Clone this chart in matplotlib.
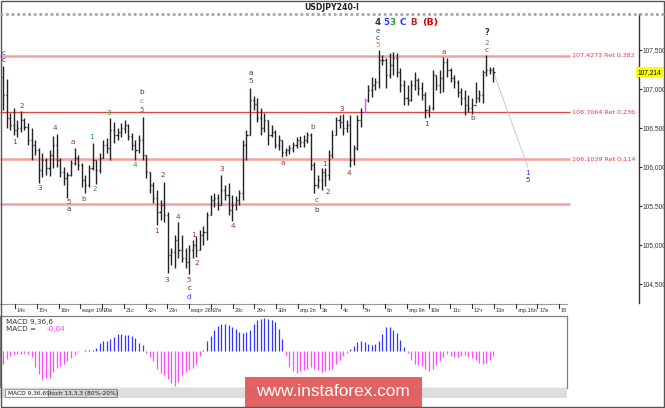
import matplotlib
matplotlib.use('Agg')
import matplotlib.pyplot as plt
from matplotlib.patches import Rectangle
from matplotlib.lines import Line2D
import matplotlib.transforms as mtrans
import numpy as np

plt.rcParams['font.family'] = ['DejaVu Sans']

# USDJPY H4 bars, 13 Mar - 12 Apr
highs = [107.29, 107.13, 106.69, 106.76, 106.60, 106.72, 106.63, 106.56, 106.50, 106.35,
         106.24, 106.18, 106.12, 106.22, 106.40, 106.42, 106.12, 106.00, 105.94, 106.09,
         106.24, 106.15, 106.05, 105.90, 106.03, 106.31, 106.09, 106.18, 106.35, 106.37,
         106.63, 106.58, 106.50, 106.56, 106.60, 106.55, 106.44, 106.35, 106.41, 106.64,
         106.15, 105.94, 105.81, 105.71, 105.58, 105.81, 105.42, 104.96, 105.13, 105.29,
         105.13, 104.96, 105.00, 105.06, 105.12, 105.19, 105.24, 105.42, 105.64, 105.67,
         105.65, 105.90, 105.77, 105.79, 105.64, 105.63, 105.71, 106.35, 106.47, 107.01,
         106.91, 106.88, 106.76, 106.69, 106.60, 106.54, 106.47, 106.41, 106.35, 106.24,
         106.28, 106.32, 106.38, 106.40, 106.41, 106.45, 106.44, 106.06, 105.90, 105.99,
         105.99, 106.22, 106.47, 106.64, 106.67, 106.68, 106.60, 106.67, 106.28, 106.67,
         106.76, 106.88, 107.05, 107.15, 107.14, 107.50, 107.44, 107.40, 107.46, 107.47,
         107.46, 107.27, 107.12, 107.05, 107.12, 107.22, 107.14, 107.09, 106.96, 106.79,
         107.24, 107.18, 107.24, 107.41, 107.40, 107.27, 107.18, 107.12, 107.01, 106.99,
         106.92, 106.88, 107.09, 106.99, 107.24, 107.43, 107.28, 107.28]
lows = [106.73, 106.50, 106.47, 106.41, 106.38, 106.45, 106.47, 106.28, 106.09, 106.15,
        105.79, 105.87, 105.90, 105.88, 105.99, 106.00, 105.87, 105.77, 105.60, 105.88,
        106.03, 105.96, 105.74, 105.67, 105.74, 105.96, 105.78, 105.92, 106.12, 106.18,
        106.09, 106.31, 106.35, 106.38, 106.44, 106.35, 106.22, 106.09, 106.18, 106.09,
        105.86, 105.67, 105.54, 105.26, 105.32, 105.29, 104.64, 104.74, 104.71, 104.83,
        104.78, 104.71, 104.63, 104.83, 104.85, 104.94, 105.00, 105.06, 105.38, 105.49,
        105.45, 105.51, 105.58, 105.38, 105.31, 105.45, 105.51, 105.58, 106.09, 106.41,
        106.73, 106.58, 106.41, 106.45, 106.28, 106.38, 106.24, 106.22, 106.13, 106.14,
        106.17, 106.19, 106.24, 106.26, 106.26, 106.31, 105.96, 105.67, 105.73, 105.71,
        105.76, 105.83, 106.12, 106.41, 106.50, 106.41, 106.45, 106.00, 106.03, 106.22,
        106.51, 106.71, 106.83, 106.90, 106.99, 107.01, 107.31, 107.01, 107.14, 107.18,
        107.15, 106.96, 106.79, 106.79, 106.85, 106.99, 106.92, 106.86, 106.63, 106.64,
        106.73, 106.99, 106.95, 106.96, 107.15, 107.09, 107.01, 106.90, 106.79, 106.67,
        106.71, 106.68, 106.82, 106.83, 106.82, 107.17, 107.19, 107.09]
closes = [106.92, 106.63, 106.54, 106.47, 106.50, 106.60, 106.51, 106.35, 106.28, 106.22,
          105.96, 106.09, 105.99, 106.15, 106.28, 106.09, 105.94, 105.86, 105.90, 106.05,
          106.12, 106.03, 105.83, 105.77, 105.99, 106.09, 105.96, 106.12, 106.28, 106.24,
          106.47, 106.41, 106.45, 106.50, 106.54, 106.40, 106.28, 106.22, 106.35, 106.15,
          105.94, 105.77, 105.60, 105.42, 105.51, 105.38, 104.87, 104.91, 105.06, 104.94,
          104.83, 104.78, 104.94, 105.00, 104.94, 105.13, 105.17, 105.38, 105.58, 105.60,
          105.51, 105.71, 105.64, 105.45, 105.51, 105.58, 105.67, 106.28, 106.41, 106.86,
          106.81, 106.63, 106.50, 106.60, 106.41, 106.45, 106.28, 106.35, 106.19, 106.22,
          106.24, 106.28, 106.35, 106.32, 106.35, 106.41, 106.03, 105.77, 105.83, 105.94,
          105.90, 106.15, 106.41, 106.60, 106.58, 106.50, 106.54, 106.09, 106.24, 106.60,
          106.71, 106.86, 106.99, 107.05, 107.09, 107.37, 107.37, 107.18, 107.31, 107.40,
          107.22, 107.05, 106.88, 106.86, 107.05, 107.12, 107.01, 106.92, 106.73, 106.76,
          107.18, 107.05, 107.14, 107.35, 107.24, 107.14, 107.09, 106.96, 106.88, 106.79,
          106.76, 106.79, 106.88, 106.92, 107.22, 107.24, 107.24, 107.214]
first_open = 107.15
opens = [first_open] + closes[:-1]

macd = [-0.095, -0.058, -0.040, -0.025, -0.020, -0.020, -0.015, -0.020, -0.045, -0.120,
        -0.170, -0.215, -0.200, -0.200, -0.160, -0.130, -0.115, -0.100, -0.078, -0.050,
        -0.028, -0.010, 0.003, 0.004, 0.005, 0.010, 0.022, 0.060, 0.072, 0.072,
        0.090, 0.105, 0.125, 0.130, 0.120, 0.120, 0.112, 0.098, 0.062, 0.042,
        -0.015, -0.045, -0.075, -0.132, -0.165, -0.180, -0.208, -0.240, -0.262, -0.232,
        -0.182, -0.160, -0.140, -0.125, -0.108, -0.040, 0.010, 0.072, 0.115, 0.155,
        0.185, 0.202, 0.202, 0.192, 0.180, 0.165, 0.145, 0.135, 0.142, 0.160,
        0.205, 0.230, 0.240, 0.248, 0.242, 0.230, 0.218, 0.168, 0.092, -0.030,
        -0.120, -0.152, -0.165, -0.152, -0.140, -0.132, -0.120, -0.132, -0.145, -0.155,
        -0.148, -0.140, -0.132, -0.095, -0.070, -0.040, -0.015, 0.012, 0.035, 0.065,
        0.075, 0.070, 0.055, 0.045, 0.055, 0.075, 0.130, 0.182, 0.182, 0.155,
        0.135, 0.080, 0.030, -0.015, -0.070, -0.100, -0.108, -0.110, -0.135, -0.152,
        -0.138, -0.102, -0.072, -0.045, -0.025, -0.038, -0.048, -0.045, -0.040, -0.032,
        -0.045, -0.052, -0.070, -0.090, -0.100, -0.088, -0.070, -0.040]

fib_levels = [107.4273, 106.7064, 106.1039]
fib_names = ['107,4273 Ret 0,382', '106,7064 Ret 0,236', '106,1039 Ret 0,114']
extra_level = 105.53
last_price = 107.214
price_ticks = [104.5, 105.0, 105.5, 106.0, 106.5, 107.0, 107.5]

day_labels = ['14с', '15ч', '16п', 'март 19п', '20в', '21с', '22ч', '23п', 'март 26п', '27в',
              '28с', '29ч', '30п', 'апр.2п', '3в', '4с', '5ч', '6п', 'апр.9п', '10в',
              '11с', '12ч', '13п', 'апр.16п', '17в', '18']

# wave marks: (bar, price, text, colour)
DR, GR, BL, DK, PK = '#a33030', '#22a022', '#3030ff', '#333333', '#e06a6a'
waves = [
    (0.3, 107.46, 'c', BL), (0.3, 107.37, 'c', DK),
    (3.1, 106.32, '1', DR), (5.3, 106.78, '2', DR), (10.3, 105.73, '3', DR),
    (14.5, 106.50, '4', DR), (18.4, 105.55, '5', DR), (18.4, 105.46, 'a', DK),
    (19.6, 106.32, 'a', DR), (22.6, 105.59, 'b', DR),
    (24.6, 106.38, '1', GR), (25.7, 105.72, '2', GR), (29.6, 106.69, '3', GR),
    (36.9, 106.03, '4', GR), (38.8, 106.73, '5', GR), (38.8, 106.85, 'c', PK),
    (38.8, 106.96, 'b', DK),
    (43.0, 105.18, '1', DR), (44.7, 105.90, '2', DR), (45.8, 104.55, '3', DR),
    (48.9, 105.36, '4', DR), (52.0, 104.55, '5', DR), (52.0, 104.45, 'c', DK),
    (52.0, 104.33, 'd', BL),
    (53.1, 105.13, '1', DR), (54.2, 104.77, '2', DR), (61.2, 105.97, '3', DR),
    (64.2, 105.24, '4', DR), (69.3, 107.21, 'a', DK), (69.3, 107.10, '5', DR),
    (78.2, 106.05, 'a', DR), (86.6, 106.51, 'b', DR), (87.7, 105.58, 'c', DR),
    (87.7, 105.45, 'b', DK),
    (89.7, 106.04, '1', DR), (90.8, 105.68, '2', DR), (94.7, 106.74, '3', DR),
    (96.6, 105.92, '4', DR),
    (104.7, 107.74, 'e', BL), (104.7, 107.65, 'c', DK), (104.7, 107.56, '5', PK),
    (118.2, 106.55, '1', BL), (123.2, 107.47, 'a', DR), (131.3, 106.63, 'b', DR),
    (135.2, 107.59, '2', '#777777'), (135.2, 107.50, 'c', DR),
    (146.6, 105.92, '1', BL), (146.6, 105.83, '5', DK),
]
top_marks = [(104.7, '4', DK), (107.0, '5', BL), (108.9, '3', GR),
             (111.7, 'C', BL), (114.8, 'B', DR), (119.3, '(B)', '#e00000')]

W, H = 665, 408
fig = plt.figure(figsize=(W / 100, H / 100), dpi=100)
fig.patch.set_facecolor('white')


def box(x0, y0, x1, y1):
    return [x0 / W, 1 - y1 / H, (x1 - x0) / W, (y1 - y0) / H]


idx = np.arange(len(closes))

# price window
ax = fig.add_axes(box(0, 14, 639, 303))
ax.set_xlim(-0.84, 177.65)
ax.set_ylim(104.256, 107.962)
for s in ['left', 'top', 'bottom']:
    ax.spines[s].set_visible(False)
ax.spines['right'].set_color('#333333')
ax.spines['right'].set_linewidth(1)
ax.set_xticks([])
ax.yaxis.tick_right()
ax.set_yticks(price_ticks)
ax.set_yticklabels([f'{p:.3f}'.replace('.', ',') for p in price_ticks],
                   family='Liberation Sans')
ax.tick_params(axis='y', length=2, width=0.8, pad=0.3, labelsize=4.8,
               colors='#333333')

for lv in [fib_levels[0], fib_levels[2], extra_level]:
    ax.hlines(lv, -0.84, 158.4, color='#f5a0a0', lw=1.8, zorder=1)
ax.hlines(fib_levels[1], -0.84, 158.4, color='#e04848', lw=1.0, zorder=1)
for lv, nm in zip(fib_levels, fib_names):
    ax.text(158.9, lv, nm, color='#ff3030', fontsize=4.6, va='center', ha='left')

bar_col = ['#222222'] * len(closes)
bar_col[101] = '#ff40ff'
ax.vlines(idx, lows, highs, color=bar_col, lw=1.0, zorder=3)
ax.hlines(opens, idx - 0.3, idx, color=bar_col, lw=1.0, zorder=3)
ax.hlines(closes, idx, idx + 0.3, color=bar_col, lw=1.0, zorder=3)

ax.plot([idx[-1], 146.6], [last_price, 106.0], color='#c8c8d2', lw=0.7, zorder=2)

for xb, yp, t, c in waves:
    ax.text(xb, yp, t, color=c, fontsize=5.2, ha='center', va='center', zorder=4)
ax.text(135.2, 107.72, '?', color=DK, fontsize=6, fontweight='bold',
        ha='center', va='center')
for xb, t, c in top_marks:
    ax.text(xb, 107.85, t, color=c, fontsize=6.3 if t != '(B)' else 6.8,
            fontweight='bold', ha='center', va='center')

trans_r = mtrans.blended_transform_factory(ax.transAxes, ax.transData)
ax.text(0.998, last_price, f'{last_price:.3f}'.replace('.', ','), transform=trans_r,
        fontsize=4.8, family='Liberation Sans', ha='left', va='center', color='black',
        clip_on=False, bbox=dict(boxstyle='square,pad=0.2', fc='#ffff00', ec='none'))

# date strip
day_pos = 3.35 + 6.08 * np.arange(len(day_labels))
trans_d = mtrans.blended_transform_factory(ax.transData, fig.transFigure)
ax.add_line(Line2D([-0.84, 157.5], [1 - 304 / H] * 2, transform=trans_d,
                   color='#999999', lw=0.8, clip_on=False))
for p, lab in zip(day_pos, day_labels):
    ax.add_line(Line2D([p, p], [1 - 304 / H, 1 - 308 / H], transform=trans_d,
                       color='#333333', lw=0.8, clip_on=False))
    ax.text(p + 0.5, 1 - 310.5 / H, lab, transform=trans_d, fontsize=4.0,
            family='Liberation Sans', ha='left', va='center', color='#333333',
            clip_on=False)

# MACD window
axm = fig.add_axes(box(0, 316, 567, 388))
axm.set_xlim(-0.84, 157.54)
axm.set_ylim(-0.2775, 0.2625)
axm.set_xticks([])
axm.set_yticks([])
for s in axm.spines.values():
    s.set_color('#808080')
    s.set_linewidth(0.9)
mc = np.array(macd)
axm.vlines(idx[mc >= 0], 0, mc[mc >= 0], color='#3535ff', lw=0.9)
axm.vlines(idx[mc < 0], 0, mc[mc < 0], color='#ff4dff', lw=0.9)
axm.text(0.01, 0.92, 'MACD 9,36,6', transform=axm.transAxes, fontsize=5.2,
         color='#333333', va='center')
axm.text(0.01, 0.82, 'MACD = ', transform=axm.transAxes, fontsize=5.2,
         color='#333333', va='center')
axm.text(0.082, 0.82, f'{macd[-1]:.2f}'.replace('.', ','), transform=axm.transAxes,
         fontsize=5.2, color='#ff33ff', va='center')

# tabs strip
fig.add_artist(Rectangle((0, 1 - 398 / H), 567 / W, 10 / H, transform=fig.transFigure,
                         fc='#dddddd', ec='none'))
fig.add_artist(Rectangle((5 / W, 1 - 397 / H), 43 / W, 8 / H, transform=fig.transFigure,
                         fc='#f4f4f4', ec='#888888', lw=0.6))
fig.add_artist(Rectangle((48 / W, 1 - 397 / H), 69 / W, 8 / H, transform=fig.transFigure,
                         fc='#d2d2d2', ec='#888888', lw=0.6))
fig.text(26.5 / W, 1 - 393 / H, 'MACD 9,36,6', fontsize=4.2, ha='center', va='center',
         color='#222222')
fig.text(82.5 / W, 1 - 393 / H, 'Stoch 13,3,3 (80%-20%)', fontsize=4.2, ha='center',
         va='center', color='#222222')

# top separator and title
fig.add_artist(Line2D([0, 1], [1 - 14 / H] * 2, transform=fig.transFigure,
                      color='#a8a8a8', lw=2, ls=(0, (1, 1))))
fig.text(332 / W, 1 - 7 / H, 'USDJPY240-I', fontsize=5.6, fontweight='bold',
         ha='center', va='center', color='#222222')

# watermark
fig.add_artist(Rectangle((245 / W, 1 - 407 / H), 177 / W, 30 / H,
                         transform=fig.transFigure, fc='#e05656', ec='none', alpha=0.92))
fig.text(333 / W, 1 - 392 / H, 'www.instaforex.com', family='Liberation Sans',
         fontsize=12.4, color='white', ha='center', va='center')

# outer frame
fig.add_artist(Rectangle((0.5 / W, 1.5 / H), 663.5 / W, 405.5 / H, transform=fig.transFigure,
                         fill=False, ec='#555555', lw=1.0))

fig.savefig('out.png', dpi=100)
